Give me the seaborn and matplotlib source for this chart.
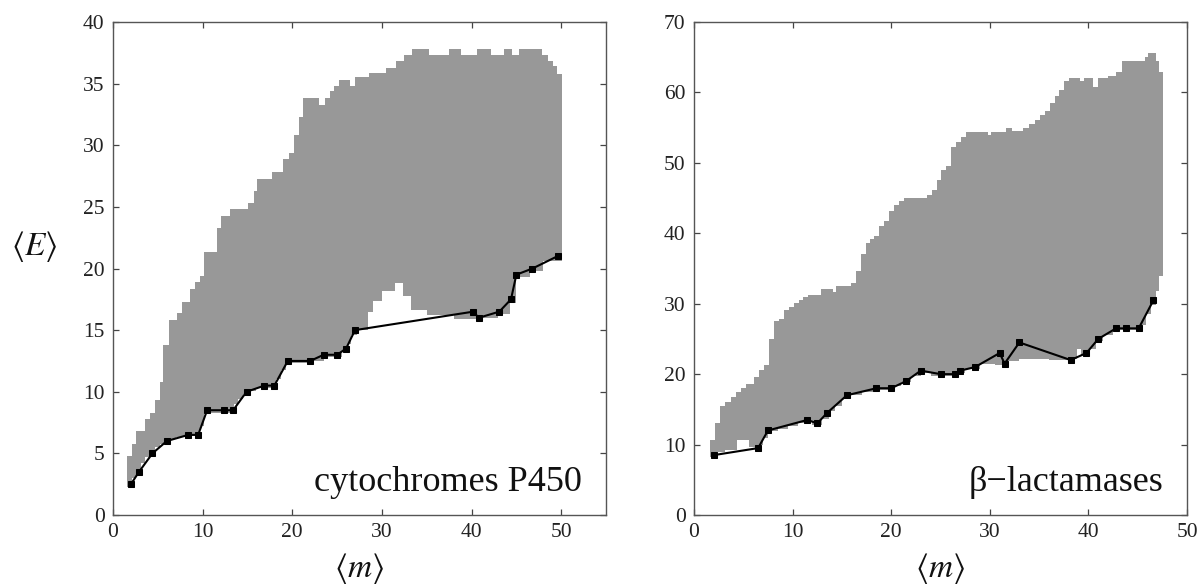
import numpy as np
import matplotlib
matplotlib.use("Agg")
import matplotlib.pyplot as plt
import seaborn as sns

# ---- cytochromes P450 (left panel) ----
p450_m = [2.0, 2.9, 4.4, 6.0, 8.4, 9.5, 10.5, 12.4, 13.4, 14.9, 16.9, 18.0, 19.5,
          22.0, 23.5, 25.0, 26.0, 27.0, 40.2, 40.8, 43.1, 44.4, 45.0, 46.8, 49.6]
p450_E = [2.5, 3.5, 5.0, 6.0, 6.5, 6.5, 8.5, 8.5, 8.5, 10.0, 10.5, 10.5, 12.5,
          12.5, 13.0, 13.0, 13.5, 15.0, 16.5, 16.0, 16.5, 17.5, 19.5, 20.0, 21.0]

# gray band: upper envelope (column edges + heights)
p450_top_edges = [1.6, 2.1, 2.6, 3.6, 4.1, 4.7, 5.2, 5.6, 6.2, 7.1, 7.7, 8.6, 9.2, 9.7,
                  10.2, 11.6, 12.1, 13.1, 15.1, 15.7, 16.1, 17.7, 19.0, 19.6, 20.2,
                  20.7, 21.2, 23.0, 23.6, 24.2, 24.7, 25.2, 26.4, 27.0, 28.6, 30.5,
                  31.6, 32.5, 33.4, 35.3, 37.5, 38.8, 40.6, 42.2, 43.6, 44.5, 45.3,
                  47.9, 48.5, 49.1, 49.5, 50.1]
p450_top = [4.8, 5.8, 6.8, 7.8, 8.3, 9.3, 10.8, 13.8, 15.8, 16.4, 17.3, 18.3, 18.9,
            19.4, 21.3, 23.3, 24.3, 24.8, 25.3, 26.3, 27.3, 27.8, 28.9, 29.4, 30.8,
            32.3, 33.8, 33.3, 33.8, 34.4, 34.8, 35.3, 34.8, 35.5, 35.9, 36.3, 36.8,
            37.3, 37.8, 37.3, 37.8, 37.3, 37.8, 37.3, 37.8, 37.3, 37.8, 37.3, 36.8,
            36.4, 35.8]
# lower envelope
p450_bot_edges = [1.6, 2.1, 2.6, 3.1, 3.6, 4.1, 4.7, 5.2, 5.7, 6.3, 7.0, 8.0, 9.7,
                  10.2, 13.5, 14.0, 14.5, 15.0, 16.0, 18.2, 18.7, 19.3, 22.0, 23.5,
                  25.5, 26.2, 26.6, 27.2, 28.4, 29.0, 30.0, 31.5, 32.3, 33.3, 35.0,
                  38.0, 41.0, 43.0, 44.3, 45.0, 46.5, 48.0, 50.1]
p450_bot = [2.3, 3.0, 3.6, 4.2, 4.7, 5.1, 5.5, 5.8, 6.0, 6.2, 6.3, 6.4, 7.2, 8.3,
            9.0, 9.4, 9.8, 10.1, 10.3, 11.0, 11.8, 12.3, 12.5, 12.8, 13.2, 13.9,
            14.6, 15.0, 16.5, 17.4, 18.2, 18.8, 17.8, 16.6, 16.2, 15.9, 16.0, 16.3,
            17.2, 19.3, 19.8, 20.6]

# ---- beta-lactamases (right panel) ----
blac_m = [2.0, 6.5, 7.5, 11.5, 12.5, 13.5, 15.5, 18.5, 20.0, 21.5, 23.0, 25.0, 26.5,
          27.0, 28.5, 31.0, 31.5, 33.0, 38.2, 39.8, 41.0, 42.8, 43.8, 45.1, 46.6]
blac_E = [8.5, 9.5, 12.0, 13.5, 13.0, 14.5, 17.0, 18.0, 18.0, 19.0, 20.5, 20.0, 20.0,
          20.5, 21.0, 23.0, 21.5, 24.5, 22.0, 23.0, 25.0, 26.5, 26.5, 26.5, 30.5]

blac_top_edges = [1.6, 2.1, 2.6, 3.1, 3.8, 4.3, 4.8, 5.3, 6.1, 6.6, 7.1, 7.6, 8.1,
                  8.6, 9.1, 9.6, 10.1, 10.6, 11.1, 11.6, 12.9, 14.1, 14.4, 15.9,
                  16.4, 16.9, 17.4, 17.8, 18.3, 18.8, 19.3, 19.8, 20.3, 20.8, 21.3,
                  23.6, 24.1, 24.6, 25.1, 25.6, 26.1, 26.6, 27.1, 27.6, 29.8, 30.1,
                  31.6, 32.3, 33.4, 34.0, 34.6, 35.1, 35.6, 36.1, 36.6, 37.0, 37.5,
                  38.0, 39.1, 39.6, 40.5, 41.0, 42.0, 42.8, 43.4, 45.7, 46.0, 46.9,
                  47.2, 47.55]
blac_top = [10.6, 13.1, 15.5, 16.1, 16.8, 17.5, 18.1, 18.6, 19.6, 20.6, 21.3, 25.0,
            27.5, 27.9, 29.1, 29.5, 30.1, 30.5, 31.0, 31.25, 32.1, 31.7, 32.5, 33.0,
            34.6, 37.1, 38.6, 39.2, 39.6, 41.0, 41.7, 43.1, 44.0, 44.6, 45.0, 45.5,
            46.1, 47.6, 49.0, 49.6, 52.3, 53.0, 53.7, 54.45, 54.0, 54.45, 54.9, 54.5,
            54.9, 55.5, 56.1, 56.8, 57.3, 58.5, 59.5, 60.4, 61.6, 62.0, 61.6, 62.0,
            60.8, 62.0, 62.4, 62.9, 64.4, 65.0, 65.6, 64.5, 62.9]
blac_bot_edges = [1.6, 2.1, 3.1, 4.4, 5.6, 6.4, 7.0, 7.5, 8.5, 9.5, 10.5, 11.5, 12.0,
                  13.0, 13.7, 14.3, 15.0, 15.6, 17.0, 18.5, 20.0, 21.0, 22.0, 23.0,
                  24.0, 26.5, 27.5, 29.0, 30.5, 31.5, 33.0, 36.0, 38.0, 38.8, 39.3,
                  40.0, 40.8, 41.5, 42.5, 45.3, 45.8, 46.3, 46.9, 47.2, 47.55]
blac_bot = [8.2, 8.9, 9.3, 10.6, 9.6, 10.0, 11.0, 11.9, 12.2, 12.6, 13.0, 13.3, 12.8,
            13.6, 14.8, 15.5, 16.4, 17.0, 17.5, 17.8, 18.3, 18.9, 19.7, 20.2, 19.8,
            20.2, 20.8, 21.5, 21.3, 21.8, 22.2, 22.0, 22.2, 23.6, 22.7, 23.6, 24.7,
            25.6, 26.2, 27.0, 28.5, 29.8, 31.8, 34.0]

GRAY = "#989898"

sns.set_theme(style="ticks")
plt.rcParams["font.family"] = ["Liberation Serif", "DejaVu Serif"]
plt.rcParams["mathtext.fontset"] = "stix"


def step_outline(edges, vals):
    xs = np.repeat(np.asarray(edges, float), 2)[1:-1]
    ys = np.repeat(np.asarray(vals, float), 2)
    return xs, ys


def draw_panel(ax, top_edges, top, bot_edges, bot, m, E, label, xmax, ymax, ystep):
    tx, ty = step_outline(top_edges, top)
    bx, by = step_outline(bot_edges, bot)
    px = np.concatenate([tx, bx[::-1]])
    py = np.concatenate([ty, by[::-1]])
    ax.fill(px, py, color=GRAY, lw=0, zorder=1)
    sns.lineplot(x=m, y=E, ax=ax, color="black", marker="s", markersize=4.5,
                 markeredgecolor="black", linewidth=1.5, sort=False,
                 estimator=None, zorder=3)
    ax.set_xlim(0, xmax)
    ax.set_ylim(0, ymax)
    ax.set_xticks(np.arange(0, 51, 10))
    ax.set_yticks(np.arange(0, ymax + 0.1, ystep))
    ax.tick_params(direction="in", top=True, right=True, length=4, width=0.9,
                   color="#444444", labelsize=15.5, labelcolor="#222222", pad=6)
    for s in ax.spines.values():
        s.set_color("#555555")
        s.set_linewidth(1.0)
    ax.set_xlabel("")
    ax.set_ylabel("")
    ax.text(0.952, 0.049, label, transform=ax.transAxes, ha="right",
            va="baseline", fontsize=26, color="#111111")


fig = plt.figure(figsize=(12.01, 5.87), dpi=100)
ax1 = fig.add_axes([113 / 1201, 72 / 587, 493 / 1201, 493 / 587])
ax2 = fig.add_axes([694 / 1201, 72 / 587, 493 / 1201, 493 / 587])

draw_panel(ax1, p450_top_edges, p450_top, p450_bot_edges, p450_bot,
           p450_m, p450_E, "cytochromes P450", 55, 40, 5)
draw_panel(ax2, blac_top_edges, blac_top, blac_bot_edges, blac_bot,
           blac_m, blac_E, "\u03b2\u2212lactamases", 50, 70, 10)

fig.text(359.5 / 1201, 1 - 569 / 587, r"$\langle m\rangle$", ha="center",
         va="center", fontsize=24, color="#111111")
fig.text(940.5 / 1201, 1 - 569 / 587, r"$\langle m\rangle$", ha="center",
         va="center", fontsize=24, color="#111111")
fig.text(34.5 / 1201, 1 - 247 / 587, r"$\langle E\rangle$", ha="center",
         va="center", fontsize=24, color="#111111")

fig.savefig("out.png", dpi=100)
